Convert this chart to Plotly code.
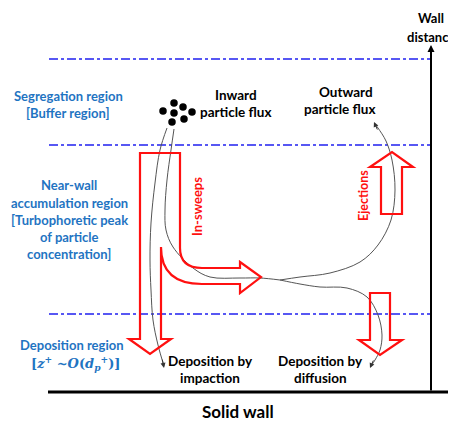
import plotly.graph_objects as go

# ---- diagram data (pixel-space coordinates of the schematic) ----
boundary_levels = [59, 145, 314]          # region boundaries (wall-distance levels)
boundary_x = [49, 430]
wall_level = 392
axis_x = 431
axis_top = 45

region_labels = [
    ("Segregation region", 68, 96), ("[Buffer region]", 68, 113),
    ("Near-wall", 69, 185), ("accumulation region", 69, 203),
    ("[Turbophoretic peak", 69, 220), ("of particle", 69, 237),
    ("concentration]", 69, 254),
    ("Deposition region", 72, 345),
]
formula_label = ("[<i>z</i><sup>+</sup> ~<i>O</i>(<i>d</i><sub><i>p</i></sub><sup>+</sup>)]", 75, 363)

black_labels = [
    ("Inward", 236, 95), ("particle flux", 236, 112),
    ("Outward", 346, 92), ("particle flux", 340, 109),
    ("Deposition by", 210, 361), ("impaction", 210, 378),
    ("Deposition by", 320, 361), ("diffusion", 320, 378),
]

particles_x = [163, 174, 183, 192, 174, 172, 184]
particles_y = [111, 103, 107, 112, 113, 122, 119]

impaction_x = [167, 160, 155, 151, 150, 151, 153, 158, 164]
impaction_y = [128, 150, 183, 223, 260, 290, 320, 345, 366]

insweep_x = [174, 171, 167, 165, 166, 173, 193, 210, 240, 260, 280]
insweep_y = [129, 150, 180, 210, 230, 247, 268, 277, 278, 278, 280]

ejection_x = [280, 300, 330, 360, 378, 391, 395, 392, 386, 378, 375]
ejection_y = [280, 277, 273, 262, 245, 220, 190, 160, 141, 128, 124]

diffusion_x = [280, 300, 320, 347, 367, 378, 382, 380, 375, 371]
diffusion_y = [280, 284, 287, 288, 297, 315, 335, 350, 360, 366]

RED = "#FF1010"
BLUE_TXT = "#1F74C2"
FONT = "Lato"
PAGE_OFFSET = 8   # default body margin of the html page

fig = go.Figure()

# region boundaries (dash-dot)
for lv in boundary_levels:
    fig.add_trace(go.Scatter(x=boundary_x, y=[lv, lv], mode="lines",
                             line=dict(color="#2020F0", width=1.6, dash="dashdot"),
                             hoverinfo="skip", showlegend=False))

# trajectories
for xs, ys in [(impaction_x, impaction_y), (insweep_x, insweep_y),
               (ejection_x, ejection_y), (diffusion_x, diffusion_y)]:
    fig.add_trace(go.Scatter(x=xs, y=ys, mode="lines",
                             line=dict(color="#555555", width=1, shape="spline", smoothing=1.0),
                             hoverinfo="skip", showlegend=False))

# particles
fig.add_trace(go.Scatter(x=particles_x, y=particles_y, mode="markers",
                         marker=dict(color="black", size=7.5),
                         hoverinfo="skip", showlegend=False))

# red hollow arrows
shapes = []
lshape = ("M 140 153 L 180 153 L 180 248 Q 180 268 202 268 L 240 268 L 240 262 "
          "L 261 277 L 240 293 L 240 284 L 202 284 Q 161 284 161 247 L 161 339 "
          "L 171 339 L 150 354 L 129 339 L 140 339 Z")
eject = "M 381 214 L 381 167 L 370 167 L 392 152 L 413 167 L 402 167 L 402 214 Z"
diffuse = "M 370 293 L 390 293 L 390 340 L 402 340 L 380 355 L 359 340 L 370 340 Z"
for p in (lshape, eject, diffuse):
    shapes.append(dict(type="path", path=p, xref="x", yref="y",
                       line=dict(color=RED, width=2.2), fillcolor="rgba(0,0,0,0)"))

# solid wall
shapes.append(dict(type="line", x0=48, x1=470, y0=wall_level, y1=wall_level,
                   xref="x", yref="y", line=dict(color="black", width=3)))

annotations = []
# wall-distance axis
annotations.append(dict(x=axis_x, y=axis_top, ax=axis_x, ay=wall_level, xref="x", yref="y",
                        axref="x", ayref="y", text="", showarrow=True, arrowhead=2,
                        arrowsize=0.7, arrowwidth=2, arrowcolor="black"))
# trajectory arrowheads
for tip, back in [((164, 368), (162, 358)), ((370, 368), (374, 359)), ((374, 122), (378, 131))]:
    annotations.append(dict(x=tip[0], y=tip[1], ax=back[0], ay=back[1], xref="x", yref="y",
                            axref="x", ayref="y", text="", showarrow=True, arrowhead=2,
                            arrowsize=1, arrowwidth=1, arrowcolor="#333333"))

for t, x, y in region_labels:
    annotations.append(dict(x=x, y=y, text=f"<b>{t}</b>", showarrow=False, xref="x", yref="y",
                            font=dict(family=FONT, size=13, color=BLUE_TXT)))
annotations.append(dict(x=formula_label[1], y=formula_label[2], text=f"<b>{formula_label[0]}</b>",
                        showarrow=False, xref="x", yref="y",
                        font=dict(family="DejaVu Serif", size=13, color=BLUE_TXT)))
for t, x, y in black_labels:
    annotations.append(dict(x=x, y=y, text=f"<b>{t}</b>", showarrow=False, xref="x", yref="y",
                            font=dict(family=FONT, size=13.5, color="black")))

annotations.append(dict(x=197, y=207, text="<b>In-sweeps</b>", textangle=-90, showarrow=False,
                        xref="x", yref="y", font=dict(family=FONT, size=13, color=RED)))
annotations.append(dict(x=363, y=196, text="<b>Ejections</b>", textangle=-90, showarrow=False,
                        xref="x", yref="y", font=dict(family=FONT, size=12.5, color=RED)))
annotations.append(dict(x=238, y=411, text="<b>Solid wall</b>", showarrow=False,
                        xref="x", yref="y", font=dict(family=FONT, size=17, color="black")))
annotations.append(dict(x=431, y=18, text="<b>Wall</b>", showarrow=False,
                        xref="x", yref="y", font=dict(family=FONT, size=13, color="black")))
annotations.append(dict(x=431, y=37, text="<b>distance</b>", showarrow=False,
                        xref="x", yref="y", font=dict(family=FONT, size=13, color="black")))

fig.update_layout(
    width=456, height=422, margin=dict(l=0, r=0, t=0, b=0),
    paper_bgcolor="white", plot_bgcolor="white",
    xaxis=dict(range=[PAGE_OFFSET, 456 + PAGE_OFFSET], visible=False, fixedrange=True),
    yaxis=dict(range=[422 + PAGE_OFFSET, PAGE_OFFSET], visible=False, fixedrange=True),
    shapes=shapes, annotations=annotations, showlegend=False,
)
fig.write_html("out.html")
